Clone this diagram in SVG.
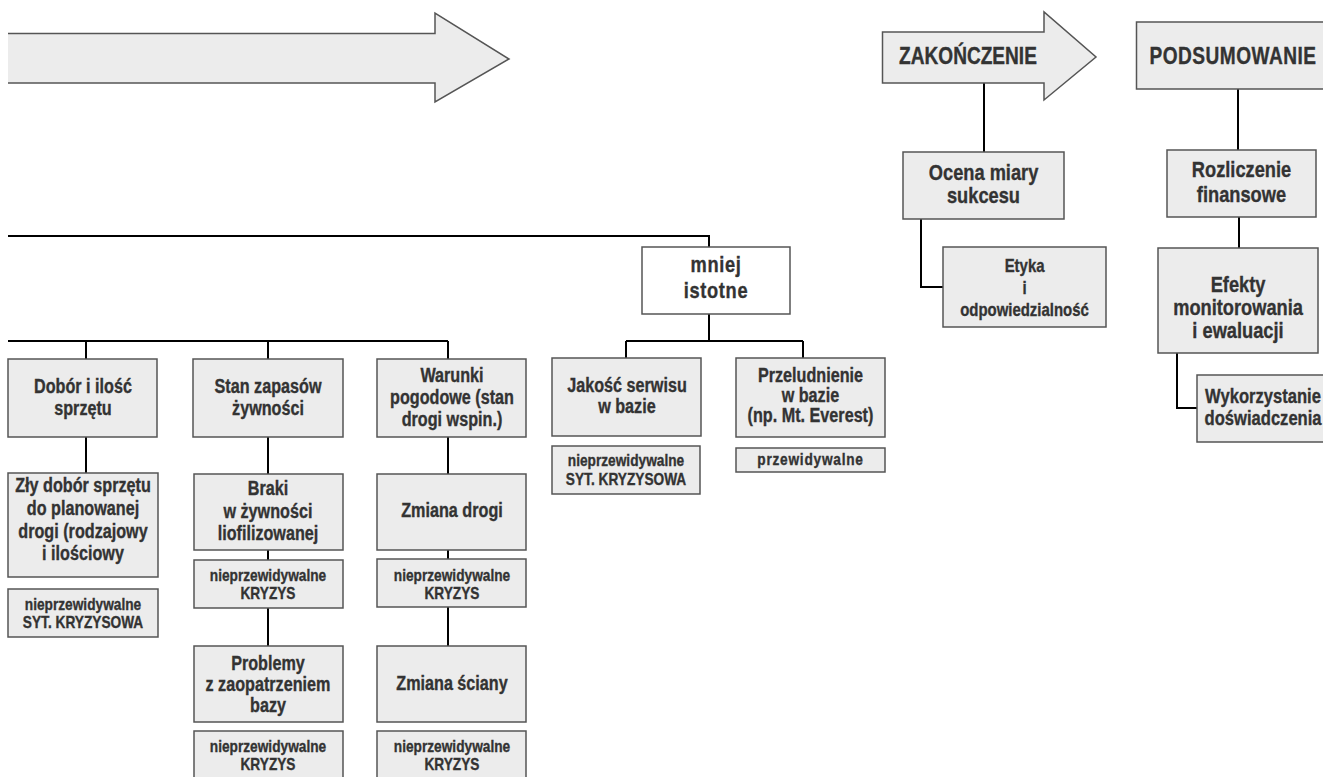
<svg xmlns="http://www.w3.org/2000/svg" width="1323" height="777" viewBox="0 0 1323 777">
<style>
.b{fill:#ececec;stroke:#555;stroke-width:1.5}
.w{fill:#fff;stroke:#555;stroke-width:1.5}
.c{fill:none;stroke:#000;stroke-width:2}
text{font-family:"Liberation Sans",Arial,sans-serif;font-weight:bold;fill:#333;stroke:#333;stroke-width:0.35px;text-anchor:middle;transform-box:fill-box;transform-origin:center;transform:scaleX(0.83)}
.t{font-size:19.5px}
.s{font-size:16.5px}
.r{font-size:22px}
.h{font-size:23px}
</style>
<rect width="1323" height="777" fill="#fff"/>
<g id="timeline-arrow">
<path d="M8 33.5 H435 V13 L509 59 L435 102 V83 H8 Z" fill="#ececec" stroke="none"/>
<path d="M8 33.5 H435 V13 L509 59 L435 102 V83 H8" fill="none" stroke="#555" stroke-width="1.5"/>
</g>
<g id="connectors">
<path class="c" d="M8 236 H709 V247"/>
<path class="c" d="M709 314 V341 M626 341 H803 M626 341 V358 M803 341 V358"/>
<path class="c" d="M8 341 H448 M86 341 V359 M268 341 V359 M448 341 V359"/>
<path class="c" d="M86 437 V473"/>
<path class="c" d="M268 437 V474 M268 550 V560 M268 608 V646"/>
<path class="c" d="M448 437 V474 M448 550 V559 M448 607 V646"/>
<path class="c" d="M984 83 V152"/>
<path class="c" d="M921 219 V287 H943"/>
<path class="c" d="M1238 89 V150"/>
<path class="c" d="M1239 217 V248"/>
<path class="c" d="M1177 353 V408 H1197"/>
</g>
<g id="zakonczenie">
<path class="b" d="M882.5 32 H1044 V12 L1096 57 L1044 100 V83 H882.5 Z"/>
<text class="h" x="968" y="64">ZAKOŃCZENIE</text>
</g>
<g id="podsumowanie">
<rect class="b" x="1136.5" y="22" width="200" height="67"/>
<text class="h" x="1233" y="64" style="letter-spacing:0.6px">PODSUMOWANIE</text>
</g>
<g id="ocena">
<rect class="b" x="903" y="152" width="161" height="67"/>
<text class="r" x="983.5" y="180">Ocena miary</text>
<text class="r" x="983.5" y="203">sukcesu</text>
</g>
<g id="etyka">
<rect class="b" x="943" y="247" width="163" height="80"/>
<text x="1024.5" y="272" style="font-size:18px">Etyka</text>
<text x="1024.5" y="294" style="font-size:18px">i</text>
<text x="1024.5" y="316" style="font-size:18px">odpowiedzialność</text>
</g>
<g id="rozliczenie">
<rect class="b" x="1167" y="150" width="149" height="67"/>
<text class="r" x="1241.5" y="177">Rozliczenie</text>
<text class="r" x="1241.5" y="202">finansowe</text>
</g>
<g id="efekty">
<rect class="b" x="1158" y="248" width="160" height="105"/>
<text class="r" x="1238" y="292">Efekty</text>
<text class="r" x="1238" y="315">monitorowania</text>
<text class="r" x="1238" y="338">i ewaluacji</text>
</g>
<g id="wykorzystanie">
<rect class="b" x="1197" y="375" width="140" height="67"/>
<text x="1263" y="403" style="font-size:20px">Wykorzystanie</text>
<text x="1263" y="425" style="font-size:20px">doświadczenia</text>
</g>
<g id="mniej-istotne">
<rect class="w" x="642" y="247" width="148" height="67"/>
<text x="716" y="272" style="font-size:22px;letter-spacing:0.8px">mniej</text>
<text x="716" y="298" style="font-size:22px;letter-spacing:0.8px">istotne</text>
</g>
<g id="dobor">
<rect class="b" x="8" y="359" width="149" height="78"/>
<text class="t" x="83" y="393">Dobór i ilość</text>
<text class="t" x="83" y="415">sprzętu</text>
</g>
<g id="zly-dobor">
<rect class="b" x="8" y="473" width="150" height="104"/>
<text class="t" x="83" y="492">Zły dobór sprzętu</text>
<text class="t" x="83" y="515">do planowanej</text>
<text class="t" x="83" y="538">drogi (rodzajowy</text>
<text class="t" x="83" y="560">i ilościowy</text>
</g>
<g id="zly-dobor-ocena">
<rect class="b" x="8" y="589" width="150" height="48"/>
<text class="s" x="83" y="610">nieprzewidywalne</text>
<text class="s" x="83" y="628">SYT. KRYZYSOWA</text>
</g>
<g id="stan">
<rect class="b" x="193" y="359" width="150" height="78"/>
<text class="t" x="268" y="393">Stan zapasów</text>
<text class="t" x="268" y="415">żywności</text>
</g>
<g id="braki">
<rect class="b" x="194" y="474" width="149" height="76"/>
<text class="t" x="268" y="495">Braki</text>
<text class="t" x="268" y="518">w żywności</text>
<text class="t" x="268" y="540">liofilizowanej</text>
</g>
<g id="braki-ocena">
<rect class="b" x="194" y="560" width="149" height="48"/>
<text class="s" x="268" y="581">nieprzewidywalne</text>
<text class="s" x="268" y="599">KRYZYS</text>
</g>
<g id="problemy">
<rect class="b" x="194" y="646" width="149" height="76"/>
<text class="t" x="268" y="670">Problemy</text>
<text class="t" x="268" y="691">z zaopatrzeniem</text>
<text class="t" x="268" y="712">bazy</text>
</g>
<g id="problemy-ocena">
<rect class="b" x="194" y="731" width="149" height="50"/>
<text class="s" x="268" y="752">nieprzewidywalne</text>
<text class="s" x="268" y="770">KRYZYS</text>
</g>
<g id="warunki">
<rect class="b" x="377" y="359" width="149" height="78"/>
<text class="t" x="452" y="382">Warunki</text>
<text class="t" x="452" y="404">pogodowe (stan</text>
<text class="t" x="452" y="426">drogi wspin.)</text>
</g>
<g id="zmiana-drogi">
<rect class="b" x="377" y="474" width="149" height="76"/>
<text class="t" x="452" y="517">Zmiana drogi</text>
</g>
<g id="zmiana-drogi-ocena">
<rect class="b" x="377" y="559" width="149" height="48"/>
<text class="s" x="452" y="581">nieprzewidywalne</text>
<text class="s" x="452" y="599">KRYZYS</text>
</g>
<g id="zmiana-sciany">
<rect class="b" x="377" y="646" width="149" height="76"/>
<text class="t" x="452" y="690">Zmiana ściany</text>
</g>
<g id="zmiana-sciany-ocena">
<rect class="b" x="377" y="731" width="149" height="50"/>
<text class="s" x="452" y="752">nieprzewidywalne</text>
<text class="s" x="452" y="770">KRYZYS</text>
</g>
<g id="jakosc">
<rect class="b" x="552" y="358" width="149" height="78"/>
<text class="t" x="627" y="392">Jakość serwisu</text>
<text class="t" x="627" y="413">w bazie</text>
</g>
<g id="jakosc-ocena">
<rect class="b" x="552" y="446" width="148" height="48"/>
<text class="s" x="626" y="466">nieprzewidywalne</text>
<text class="s" x="626" y="485">SYT. KRYZYSOWA</text>
</g>
<g id="przeludnienie">
<rect class="b" x="736" y="358" width="149" height="79"/>
<text class="t" x="810.5" y="382">Przeludnienie</text>
<text class="t" x="810.5" y="402">w bazie</text>
<text class="t" x="810.5" y="422">(np. Mt. Everest)</text>
</g>
<g id="przeludnienie-ocena">
<rect class="b" x="736" y="448" width="149" height="24"/>
<text class="s" x="810.5" y="465" style="letter-spacing:0.9px">przewidywalne</text>
</g>
</svg>
